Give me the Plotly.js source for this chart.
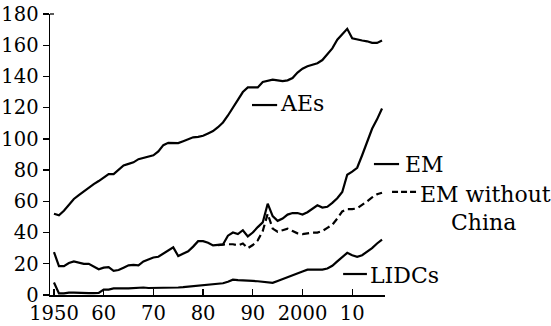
<!DOCTYPE html>
<html>
<head>
<meta charset="utf-8">
<script src="https://cdn.plot.ly/plotly-3.0.1.min.js"></script>
<style>
html,body{margin:0;padding:0;background:#fff;}
#chart{width:551px;height:326px;}
</style>
</head>
<body>
<div id="chart"></div>
<script>
// ---- data ----
const years = [];
for (let y = 1950; y <= 2016; y++) years.push(y);

const aes = [52,51,54,57.5,61.5,64,66.5,69,71,73,
  75.5,77.4,77.4,80.5,83,84,85,87,88,89,
  89.5,92,96,97.5,97.5,97.3,98.5,100,101,101.3,
  102,103.5,105,107.5,110.5,115,120,125.5,130,133,
  133,133,136.5,137.5,138,137.5,137,137.5,139,142.5,
  145,146.5,147.5,148.5,150.5,154,158,163.5,167,170.5,
  164.5,163.5,163,162.5,161.5,161.5,163];

const em = [27.5,18.5,18.5,20.5,21.5,20.5,20,20,18,16.5,
  17.5,17.8,15.5,16,17.5,19,19.3,19,21.5,23,
  24,24.5,26.5,28.5,30.5,25,26.5,28,31,34.5,
  34.5,33.5,31.8,32,32.4,38,40,39,41.5,37.5,
  40,43.5,46.5,58.5,50.5,47.5,49,51.5,52.5,52.5,
  51.5,53,55.5,57.5,56,56.5,59,62,66,77,
  79,81.5,89.5,98,106.5,112.5,119.5];

const emExYears = [];
for (let y = 1983; y <= 2016; y++) emExYears.push(y);
const emExChina = [32,32.4,32.5,32.5,31.8,33,30,32,35,41,
  52,42.5,40.5,41.5,42.5,41,39.5,39,39.5,40,
  40,41,43,45,49,53.5,55,55,55.5,57.5,
  60,62.5,64.5,65.5];

const lidcs = [8,1,1,1.5,1.5,1.3,1.2,1.2,1.2,1.3,
  3.5,3.5,4.2,4,4.2,4.2,4.5,4.8,4.8,4.5,
  4.5,4.5,4.5,4.6,4.7,4.8,5,5.3,5.6,6,
  6.3,6.6,6.8,7,7.5,8.5,9.8,9.5,9.2,9,
  9,8.8,8.5,8,7.8,9,10.3,11.3,12.8,14,
  15,16.2,16.2,16,16.3,17,18.7,21.5,24,27,
  25.5,24.5,25.5,27.5,30,33,35.5];

const xTickVals = [1950,1960,1970,1980,1990,2000,2010];
const xTickText = ['1950','60','70','80','90','2000','10'];
const yTickVals = [0,20,40,60,80,100,120,140,160,180];

// ---- chart ----
const FONT = 'DejaVu Serif';
const lineStyle = {color:'#000', width:2.2};

const traces = [
  {x: years, y: aes, mode:'lines', line: lineStyle, name:'AEs'},
  {x: years, y: em, mode:'lines', line: lineStyle, name:'EM'},
  {x: emExYears, y: emExChina, mode:'lines', line: {color:'#000', width:2.2, dash:'7px,4px'}, name:'EM without China'},
  {x: years, y: lidcs, mode:'lines', line: lineStyle, name:'LIDCs'}
];

const annFont = {family: FONT, size: 22, color:'#000'};
function ann(text, x, y, anchor){
  return {text: text, x: x, y: y, xref:'paper', yref:'paper', showarrow:false,
    xanchor: anchor || 'left', yanchor:'middle', font: annFont, borderpad:0};
}
function seg(x0, x1, y, dash){
  return {type:'line', xref:'paper', yref:'paper', x0:x0, x1:x1, y0:y, y1:y,
    line:{color:'#000', width:2.2, dash: dash || 'solid'}};
}

const layout = {
  width: 551, height: 326,
  margin: {l:50, r:166, t:14, b:31, pad:0},
  paper_bgcolor:'#fff', plot_bgcolor:'#fff',
  showlegend:false,
  font: {family: FONT, size: 19.5, color:'#000'},
  xaxis: {
    range: [1949.2, 2016.6],
    tickvals: xTickVals, ticktext: xTickText,
    ticks:'inside', ticklen:6, tickwidth:1.3, tickcolor:'#000',
    showline:true, linecolor:'#000', linewidth:1.5,
    showgrid:false, zeroline:false,
    ticklabelstandoff: 0,
    tickfont:{family:FONT, size:19.5, color:'#000'}
  },
  yaxis: {
    range: [0, 180],
    tickvals: yTickVals,
    ticks:'outside', ticklen:6, tickwidth:1.3, tickcolor:'#000',
    showline:true, linecolor:'#000', linewidth:1.5,
    showgrid:false, zeroline:false,
    tickfont:{family:FONT, size:19.5, color:'#000'}
  },
  annotations: [
    ann('AEs', 0.6836, 0.6819),
    ann('EM', 1.0567, 0.4648),
    ann('EM without', 1.1015, 0.3591),
    ann('China', 1.2955, 0.2584, 'center'),
    ann('LIDCs', 0.9522, 0.0698)
  ],
  shapes: [
    seg(0.603, 0.678, 0.676),
    seg(0.967, 1.042, 0.466),
    seg(1.021, 1.099, 0.367, '6px,3px'),
    seg(0.875, 0.946, 0.0747),
    {type:'line', xref:'paper', yref:'paper', x0:0, x1:0.012, y0:1, y1:1, line:{color:'#000', width:1.3}}
  ]
};

Plotly.newPlot('chart', traces, layout, {staticPlot:true, displayModeBar:false});
</script>
</body>
</html>
